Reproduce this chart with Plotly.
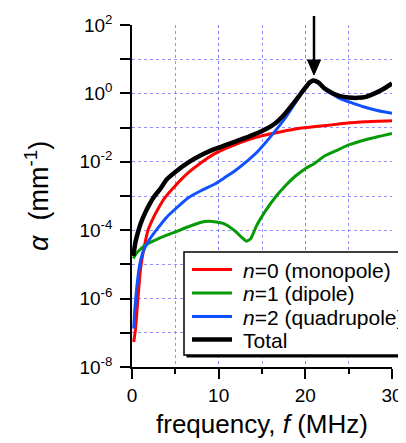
import plotly.graph_objects as go

# ---- data (frequency in MHz, attenuation alpha in mm^-1) ----
f_mono = [0.2, 0.4, 0.7, 1.0, 1.4, 1.85, 2.5, 3.0, 3.8, 5.0, 6.5, 8.0, 9.5, 10.7, 12.0,
          13.4, 15.0, 17.2, 19.4, 21.1, 24.7, 27.0, 30.0]
a_mono = [5.4e-8, 1.26e-7, 1.12e-6, 7.9e-6, 3.16e-5, 1.0e-4, 2.4e-4, 4.17e-4, 8.91e-4,
          2.0e-3, 4.79e-3, 9.55e-3, 1.70e-2, 2.40e-2, 3.24e-2, 4.37e-2, 5.75e-2, 7.59e-2,
          9.55e-2, 0.107, 0.135, 0.148, 0.158]

f_dip = [0.15, 0.5, 1.0, 1.5, 2.0, 3.0, 4.7, 6.5, 8.0, 8.8, 9.5, 10.5, 11.1, 12.0, 12.7,
         13.2, 13.7, 14.35, 15.5, 16.65, 17.7, 18.8, 20.0, 21.1, 22.2, 23.5, 25.1, 27.5, 30.0]
a_dip = [1.48e-5, 2.09e-5, 2.82e-5, 3.63e-5, 4.27e-5, 5.62e-5, 8.32e-5, 1.26e-4, 1.70e-4,
         1.82e-4, 1.78e-4, 1.58e-4, 1.32e-4, 8.91e-5, 6.03e-5, 4.79e-5, 5.62e-5, 1.32e-4,
         3.98e-4, 1.0e-3, 2.0e-3, 3.72e-3, 6.31e-3, 9.12e-3, 1.48e-2, 2.09e-2, 3.16e-2,
         4.79e-2, 6.76e-2]

f_quad = [0.2, 0.3, 0.45, 0.65, 0.9, 1.3, 2.0, 2.8, 4.0, 5.0, 6.5, 8.0, 9.5, 10.7, 12.0,
          13.0, 14.5, 16.3, 17.5, 18.8, 19.9, 20.5, 21.0, 21.5, 22.2, 23.2, 24.0, 25.3,
          26.7, 28.3, 30.0]
a_quad = [1.32e-7, 3.98e-7, 1.12e-6, 3.55e-6, 1.0e-5, 2.4e-5, 5.25e-5, 1.0e-4, 2.4e-4,
          4.17e-4, 8.91e-4, 1.45e-3, 2.2e-3, 3.45e-3, 5.75e-3, 9.12e-3, 2.0e-2, 6.76e-2,
          0.166, 0.513, 1.41, 2.14, 2.34, 2.0, 1.32, 0.933, 0.708, 0.537, 0.407, 0.316, 0.263]

f_total = [0.15, 0.4, 0.7, 1.0, 1.5, 2.0, 2.6, 3.3, 4.0, 5.0, 6.5, 8.0, 9.5, 10.7, 12.0,
           13.4, 15.0, 16.5, 17.5, 18.6, 19.8, 20.5, 20.9, 21.5, 22.2, 23.2, 24.0, 25.0,
           26.0, 27.0, 28.0, 29.0, 30.0]
a_total = [1.78e-5, 4.47e-5, 8.91e-5, 1.58e-4, 3.16e-4, 5.62e-4, 1.0e-3, 1.66e-3, 3.02e-3,
           5.01e-3, 9.55e-3, 1.58e-2, 2.34e-2, 3.02e-2, 3.98e-2, 5.37e-2, 7.94e-2, 0.132,
           0.229, 0.501, 1.26, 2.09, 2.40, 2.09, 1.41, 1.0, 0.832, 0.759, 0.741, 0.794,
           1.0, 1.35, 1.95]

series_names = ["<i>n</i>=0 (monopole)", "<i>n</i>=1 (dipole)",
                "<i>n</i>=2 (quadrupole)", "Total"]
series_colors = ["#ff0000", "#069a06", "#1050ff", "#000000"]
series_widths = [3, 3, 3, 4.5]

y_major_vals = [1e-8, 1e-6, 1e-4, 1e-2, 1e0, 1e2]
y_major_text = ["10<sup>-8</sup>", "10<sup>-6</sup>", "10<sup>-4</sup>",
                "10<sup>-2</sup>", "10<sup>0</sup>", "10<sup>2</sup>"]
y_minor_vals = [1e-7, 1e-5, 1e-3, 1e-1, 1e1]
x_tick_vals = [0, 10, 20, 30]
peak_freq = 21.0

FONT = "Liberation Sans, Arial, Helvetica, sans-serif"
GRID = "rgba(120,120,255,0.8)"

# the page body has an 8px margin: figure is placed at (8, 8) in the window
OFF = 8
W, H = 406 - OFF, 443 - OFF
L, T, R, B = 124, 17, 14, 76
PW, PH = W - L - R, H - T - B


def px(xw):   # window pixel x -> paper x
    return (xw - OFF - L) / PW


def py(yw):   # window pixel y -> paper y
    return (H - B - (yw - OFF)) / PH


fig = go.Figure()
for fx, ay, nm, col, wd in [(f_mono, a_mono, series_names[0], series_colors[0], series_widths[0]),
                            (f_dip, a_dip, series_names[1], series_colors[1], series_widths[1]),
                            (f_quad, a_quad, series_names[2], series_colors[2], series_widths[2]),
                            (f_total, a_total, series_names[3], series_colors[3], series_widths[3])]:
    fig.add_trace(go.Scatter(x=fx, y=ay, mode="lines", name=nm, showlegend=False,
                             line=dict(color=col, width=wd, shape="spline", smoothing=0.5)))

fig.update_layout(
    width=W, height=H,
    margin=dict(l=L, r=R, t=T, b=B, autoexpand=False),
    paper_bgcolor="white", plot_bgcolor="white",
    font=dict(family=FONT, size=19, color="black"),
    showlegend=False,
    xaxis=dict(range=[0, 30], tickvals=x_tick_vals, ticks="outside", ticklen=10,
               tickwidth=1.5, tickcolor="black", showline=True, linecolor="black",
               linewidth=1.5, showgrid=True, gridcolor=GRID, griddash="dot", gridwidth=1,
               zeroline=False, tickfont=dict(size=19),
               minor=dict(dtick=5, ticks="outside", ticklen=5, tickwidth=1.5,
                          tickcolor="black", showgrid=True, gridcolor=GRID,
                          griddash="dot", gridwidth=1)),
    yaxis=dict(type="log", range=[-8, 2], tickvals=y_major_vals, ticktext=y_major_text,
               ticks="outside", ticklen=10, tickwidth=1.5, tickcolor="black",
               showline=True, linecolor="black", linewidth=1.5, showgrid=True,
               gridcolor=GRID, griddash="dot", gridwidth=1, zeroline=False,
               tickfont=dict(size=19), ticklabelstandoff=4,
               minor=dict(tickvals=y_minor_vals, ticks="outside", ticklen=10,
                          tickwidth=1.5, tickcolor="black", showgrid=True,
                          gridcolor=GRID, griddash="dot", gridwidth=1)),
)

# axis titles
fig.add_annotation(xref="paper", yref="paper", x=px(262), y=py(424),
                   text="frequency, <i>f</i> (MHz)", showarrow=False,
                   xanchor="center", yanchor="middle", font=dict(size=26))
fig.add_annotation(xref="paper", yref="paper", x=px(37), y=py(196),
                   text="<i>α</i>  (mm<sup>-1</sup>)", showarrow=False, textangle=-90,
                   xanchor="center", yanchor="middle", font=dict(size=27))

# arrow marking the resonance peak (shaft + filled head)
fig.add_shape(type="line", xref="x", yref="paper", x0=peak_freq, x1=peak_freq,
              y0=py(16), y1=py(62), line=dict(color="black", width=2.5), layer="above")
hw = 6.5 / (PW / 30)
fig.add_shape(type="path", xref="x", yref="paper",
              path=f"M{peak_freq - hw},{py(60)} L{peak_freq + hw},{py(60)} L{peak_freq},{py(75)} Z",
              fillcolor="black", line=dict(color="black", width=1), layer="above")

# legend box (drawn by hand to match the compact row spacing)
box_l, box_r, box_t, box_b = 184, 403, 252, 355
fig.add_shape(type="rect", xref="paper", yref="paper",
              x0=px(box_l + 2.5), x1=px(box_r + 2.5), y0=py(box_b + 2.5), y1=py(box_t + 2.5),
              fillcolor="black", line=dict(width=0), layer="above")
fig.add_shape(type="rect", xref="paper", yref="paper",
              x0=px(box_l), x1=px(box_r), y0=py(box_b), y1=py(box_t),
              fillcolor="white", line=dict(color="black", width=1.5), layer="above")
row_y = [269.5, 293, 316.5, 339.5]
for i in range(4):
    fig.add_shape(type="line", xref="paper", yref="paper", x0=px(192), x1=px(232),
                  y0=py(row_y[i]), y1=py(row_y[i]),
                  line=dict(color=series_colors[i], width=series_widths[i]), layer="above")
    fig.add_annotation(xref="paper", yref="paper", x=px(241), y=py(row_y[i] + 0.5),
                       text=series_names[i], showarrow=False, xanchor="left",
                       yanchor="middle", font=dict(size=21))

fig.write_html("out.html")
